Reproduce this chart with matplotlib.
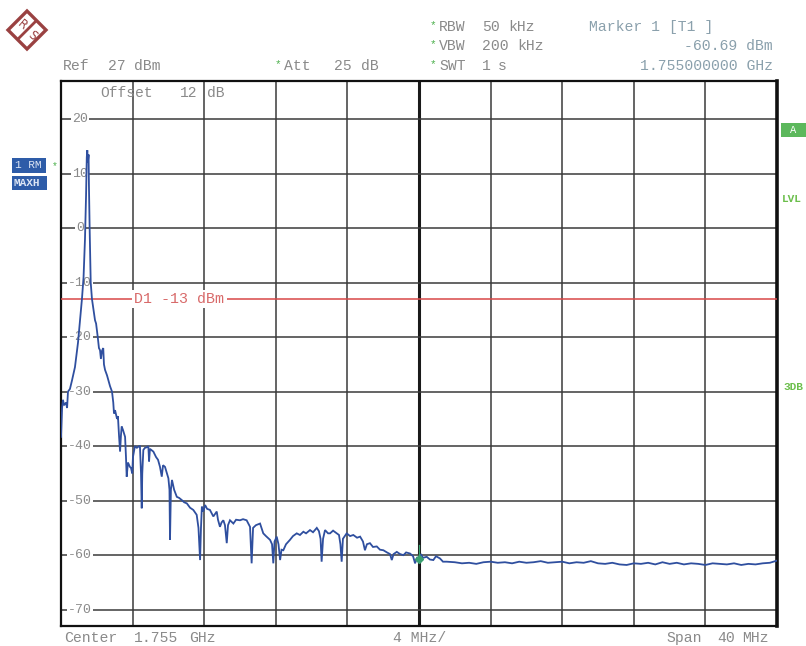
import numpy as np
import matplotlib
matplotlib.use("Agg")
import matplotlib.pyplot as plt
from matplotlib.patches import Polygon, Rectangle

# ---------------- data (frequency offset from centre in MHz, level in dBm) -------------
carrier_freq = [-20.00, -19.94, -19.89, -19.83, -19.72, -19.66, -19.61, -19.50, -19.39, -19.22,
                -19.05, -18.94, -18.83, -18.74, -18.66, -18.60, -18.56, -18.53, -18.50, -18.46,
                -18.44, -18.40, -18.34, -18.27, -18.16, -18.10, -18.04, -17.95, -17.88, -17.82,
                -17.77, -17.71, -17.64, -17.60, -17.54, -17.43, -17.26, -17.15, -17.08, -17.04,
                -16.98, -16.87, -16.82, -16.76, -16.70, -16.65, -16.61, -16.54, -16.42, -16.37,
                -16.33, -16.26, -16.15, -16.09, -16.02]
carrier_level = [-38.3, -33.0, -31.5, -32.5, -32.0, -33.0, -30.0, -29.5, -28.0, -25.5,
                 -21.0, -17.0, -13.0, -9.0, -2.0, 6.0, 13.0, 14.3, 12.0, 13.5,
                 8.0, 0.0, -10.0, -13.0, -15.6, -16.9, -17.5, -19.9, -22.0, -22.4,
                 -24.0, -22.5, -22.0, -25.0, -26.0, -27.0, -29.0, -30.0, -32.0, -34.0,
                 -33.4, -35.0, -34.5, -38.0, -41.0, -38.0, -36.4, -37.0, -38.3, -42.0,
                 -45.6, -43.0, -43.8, -44.0, -45.0]

skirt_freq = [-15.98, -15.87, -15.76, -15.64, -15.59, -15.53, -15.49, -15.46, -15.40, -15.31,
              -15.20, -15.12, -15.08, -15.03, -14.84, -14.69, -14.58, -14.47, -14.37, -14.30,
              -14.19, -14.00, -13.94, -13.91, -13.86, -13.80, -13.68, -13.53, -13.40, -13.25,
              -13.12, -12.97, -12.79, -12.61, -12.42, -12.32, -12.23, -12.18, -12.13, -12.06,
              -11.95, -11.84, -11.68, -11.49, -11.30, -11.23, -11.12, -11.03, -10.93, -10.84,
              -10.74, -10.67, -10.56, -10.37, -10.22, -10.00, -9.83, -9.63, -9.44, -9.35,
              -9.27, -9.11, -8.88, -8.70, -8.55, -8.32, -8.21, -8.14, -8.07, -7.95,
              -7.85, -7.76, -7.68, -7.58, -7.43, -7.21, -7.04, -6.83, -6.65, -6.46,
              -6.31, -6.09, -5.92, -5.71, -5.59, -5.50, -5.44, -5.36, -5.25, -5.08,
              -4.97, -4.80, -4.60, -4.47, -4.39, -4.32, -4.25, -4.04, -3.85, -3.67,
              -3.46, -3.29, -3.13, -3.02, -2.91, -2.74, -2.57, -2.36, -2.18, -1.99,
              -1.79, -1.62, -1.52, -1.42, -1.24, -1.06, -0.87, -0.72, -0.50, -0.33,
              -0.22, -0.11, 0.00, 0.11, 0.22, 0.43, 0.61, 0.80, 0.95, 1.17,
              1.34, 1.55]
skirt_level = [-42.0, -40.0, -40.3, -40.0, -40.0, -45.0, -51.4, -45.0, -40.7, -40.3,
               -40.2, -40.0, -42.8, -40.5, -41.0, -42.0, -42.5, -43.8, -45.6, -43.5,
               -43.8, -45.9, -48.0, -57.2, -48.0, -46.2, -48.0, -49.3, -49.5, -49.9,
               -50.3, -50.5, -51.3, -51.7, -52.6, -55.0, -60.9, -55.0, -51.1, -52.0,
               -50.8, -51.5, -51.7, -52.9, -52.0, -53.5, -54.8, -54.0, -53.6, -54.5,
               -57.8, -54.5, -53.6, -54.2, -53.5, -53.6, -53.4, -53.6, -54.8, -61.5,
               -55.0, -54.5, -54.2, -56.0, -56.5, -57.2, -58.0, -61.5, -57.5, -56.6,
               -58.0, -60.9, -59.0, -59.1, -58.0, -57.2, -56.5, -56.0, -56.3, -55.7,
               -56.0, -55.4, -55.8, -55.0, -55.6, -57.0, -61.2, -57.0, -55.4, -56.0,
               -56.0, -55.5, -56.0, -56.3, -58.0, -61.2, -57.0, -56.0, -56.5, -56.3,
               -56.8, -56.6, -57.5, -59.1, -58.0, -57.8, -58.5, -58.4, -59.0, -59.1,
               -59.5, -59.8, -60.9, -59.8, -59.4, -59.8, -60.0, -59.5, -59.7, -60.2,
               -61.5, -60.5, -60.69, -59.8, -60.5, -60.3, -60.8, -60.9, -60.2, -60.6,
               -61.2, -61.2]

floor_freq = [2.0, 2.4, 2.8, 3.2, 3.6, 4.0, 4.4, 4.8, 5.2, 5.6,
              6.0, 6.4, 6.8, 7.2, 7.6, 8.0, 8.4, 8.8, 9.2, 9.6,
              10.0, 10.4, 10.8, 11.2, 11.6, 12.0, 12.4, 12.8, 13.2, 13.6,
              14.0, 14.4, 14.8, 15.2, 15.6, 16.0, 16.4, 16.8, 17.2, 17.6,
              18.0, 18.4, 18.8, 19.2, 19.6, 20.0]
floor_level = [-61.3, -61.5, -61.4, -61.6, -61.3, -61.2, -61.4, -61.3, -61.5, -61.2,
               -61.4, -61.3, -61.1, -61.4, -61.3, -61.2, -61.5, -61.3, -61.4, -61.1,
               -61.5, -61.6, -61.4, -61.7, -61.8, -61.5, -61.6, -61.4, -61.7, -61.3,
               -61.6, -61.4, -61.7, -61.5, -61.6, -61.8, -61.5, -61.6, -61.7, -61.5,
               -61.8, -61.6, -61.7, -61.5, -61.4, -61.0]

y_tick_values = [20, 10, 0, -10, -20, -30, -40, -50, -60, -70]
x_grid_values = [-20, -16, -12, -8, -4, 0, 4, 8, 12, 16, 20]
ref_level = 27
display_line = -13
marker_freq = 0.0
marker_level = -60.69

# ---------------- figure ---------------------------------------------------------------
W, H = 806, 646
fig = plt.figure(figsize=(W / 100, H / 100), dpi=100)
fig.patch.set_facecolor("white")

def fx(x):
    return x / W

def fy(y):
    return 1 - y / H

left, right, top, bottom = 61, 777, 81, 626
ax = fig.add_axes([fx(left), fy(bottom), (right - left) / W, (bottom - top) / H])
ax.set_xlim(-20, 20)
ax.set_ylim(ref_level - 100, ref_level)
ax.set_xticks([])
ax.set_yticks([])
for side in ["left", "top", "bottom"]:
    ax.spines[side].set_linewidth(1.6)
    ax.spines[side].set_color("#111111")
ax.spines["right"].set_linewidth(2.6)
ax.spines["right"].set_color("#111111")

grid_col = "#3a3a3a"
for xv in x_grid_values[1:-1]:
    lw = 2.2 if xv == 0 else 1.1
    ax.axvline(xv, color="#1a1a1a" if xv == 0 else grid_col, lw=lw, zorder=1)
for yv in y_tick_values:
    ax.axhline(yv, color=grid_col, lw=1.1, zorder=1)

mono = "Liberation Mono"
gray = "#8a8a8a"

# y labels inside the grid
for yv in y_tick_values:
    ax.text(-18.93, yv, f"{yv}", ha="center", va="center", fontsize=9.5,
            family=mono, color=gray, zorder=2,
            bbox=dict(boxstyle="square,pad=0.08", fc="white", ec="none"))

# display line D1
ax.axhline(display_line, color="#d94848", lw=1.1, zorder=3)
ax.text(-15.9, display_line, "D1 -13 dBm", ha="left", va="center", fontsize=10.8,
        family=mono, color="#d86a6a", zorder=3,
        bbox=dict(boxstyle="square,pad=0.15", fc="white", ec="none"))

# trace
freq = carrier_freq + skirt_freq + floor_freq
level = carrier_level + skirt_level + floor_level
ax.plot(freq, level, color="#2f4f9f", lw=1.3, zorder=4, solid_joinstyle="miter")

# marker
ax.plot([marker_freq], [marker_level], marker="D", ms=4, color="#3aa070",
        zorder=5, mec="#3aa070")
ax.plot([marker_freq, marker_freq], [marker_level + 0.5, marker_level + 2.6],
        color="#3aa070", lw=0.9, zorder=5)

# Offset text inside the grid
fig.text(fx(100), fy(93), "Offset", ha="left", va="center", fontsize=10.5,
         family=mono, color=gray)
fig.text(fx(180), fy(93), "12", ha="left", va="center", fontsize=10.5,
         family=mono, color=gray)
fig.text(fx(207), fy(93), "dB", ha="left", va="center", fontsize=10.5,
         family=mono, color=gray)

# ---------------- header texts --------------------------------------------------------
def t(x, y, s, ha="left", color=gray, fs=10.6):
    fig.text(fx(x), fy(y), s, ha=ha, va="center", fontsize=fs, family=mono,
             color=color)

green = "#4cb04c"
t(63, 66, "Ref")
t(108, 66, "27")
t(134, 66, "dBm")
t(275, 64, "*", color=green, fs=8)
t(284, 66, "Att")
t(334, 66, "25")
t(361, 66, "dB")

t(430, 25, "*", color=green, fs=8)
t(439, 27, "RBW")
t(482, 27, "50")
t(508, 27, "kHz")
t(430, 44, "*", color=green, fs=8)
t(439, 46, "VBW")
t(482, 46, "200")
t(517, 46, "kHz")
t(430, 64, "*", color=green, fs=8)
t(439, 66, "SWT")
t(482, 66, "1")
t(498, 66, "s")

mcol = "#8aa0ac"
t(589, 27, "Marker 1 [T1 ]", color=mcol)
t(773, 46, "-60.69 dBm", ha="right", color=mcol)
t(773, 66, "1.755000000 GHz", ha="right", color=mcol)

# bottom texts
t(64, 638, "Center")
t(134, 638, "1.755")
t(189, 638, "GHz")
t(420, 638, "4 MHz/", ha="center")
t(666, 638, "Span")
t(717, 638, "40")
t(742, 638, "MHz")

# left trace info boxes
blue = "#2e5ca8"
fig.patches.append(Rectangle((fx(12), fy(173)), 34 / W, 15 / H, transform=fig.transFigure,
                             fc=blue, ec="none"))
fig.patches.append(Rectangle((fx(12), fy(190)), 35 / W, 14 / H, transform=fig.transFigure,
                             fc=blue, ec="none"))
fig.text(fx(15), fy(165), "1 RM", ha="left", va="center", fontsize=8, family=mono,
         color="#dde6f5")
fig.text(fx(14), fy(183), "MAXH", ha="left", va="center", fontsize=8, family=mono,
         color="#dde6f5", weight="bold")
t(52, 166, "*", color=green, fs=7)

# right side labels
fig.patches.append(Rectangle((fx(781), fy(137)), 25 / W, 14 / H, transform=fig.transFigure,
                             fc="#5cb85c", ec="none"))
fig.text(fx(793), fy(130), "A", ha="center", va="center", fontsize=7.5, family=mono,
         color="white")
fig.text(fx(782), fy(199), "LVL", ha="left", va="center", fontsize=8, family=mono,
         color="#6cbf4c", weight="bold")
fig.text(fx(783), fy(387), "3DB", ha="left", va="center", fontsize=8, family=mono,
         color="#6cbf4c", weight="bold")

# R&S logo
logo_col = "#9a4141"
cx, cy, r = 27, 30, 19
diamond = Polygon([(fx(cx), fy(cy - r)), (fx(cx + r), fy(cy)), (fx(cx), fy(cy + r)),
                   (fx(cx - r), fy(cy))], closed=True, transform=fig.transFigure,
                  fc="none", ec=logo_col, lw=2.4)
fig.patches.append(diamond)
fig.lines.append(plt.Line2D([fx(cx - 9), fx(cx + 9)], [fy(cy + 9), fy(cy - 9)],
                            transform=fig.transFigure, color=logo_col, lw=2.0))
fig.text(fx(cx - 5), fy(cy - 5), "R", ha="center", va="center", fontsize=8.5,
         color=logo_col, rotation=-40, family="DejaVu Sans")
fig.text(fx(cx + 5), fy(cy + 6), "S", ha="center", va="center", fontsize=8.5,
         color=logo_col, rotation=-40, family="DejaVu Sans")

fig.savefig("out.png", dpi=100, facecolor="white")
